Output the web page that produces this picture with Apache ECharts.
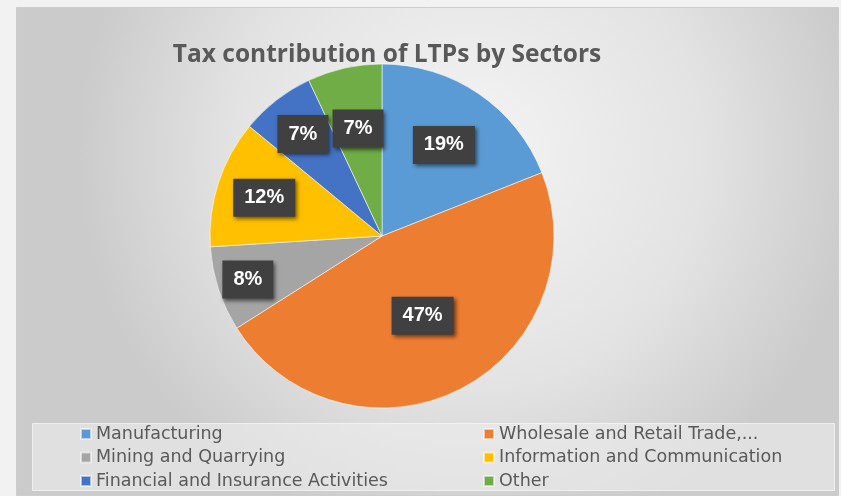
<!DOCTYPE html>
<html>
<head>
<meta charset="utf-8">
<style>
  html, body { margin: 0; padding: 0; background: #f2f2f2; }
  #chart { width: 841px; height: 496px; }
</style>
<script src="https://cdn.jsdelivr.net/npm/echarts@6/dist/echarts.min.js"></script>
</head>
<body>
<div id="chart"></div>
<script>
// Sector shares of LTP tax contribution (percent)
const sectors = [
  'Manufacturing',
  'Wholesale and Retail Trade,...',
  'Mining and Quarrying',
  'Information and Communication',
  'Financial and Insurance Activities',
  'Other'
];
const shares = [19, 47, 8, 12, 7, 7];
const sliceColors = ['#5B9BD5', '#ED7D31', '#A5A5A5', '#FFC000', '#4472C4', '#70AD47'];

// Legend reads row by row in two columns; the vertical legend fills column-first
const legendOrder = [sectors[0], sectors[2], sectors[4], sectors[1], sectors[3], sectors[5]];

// Pie geometry and how far out each data label sits (fraction of radius)
const CX = 382, CY = 236, R = 172;
const labelRadiusFrac = [0.64, 0.52, 0.82, 0.72, 0.75, 0.64];

const chart = echarts.init(document.getElementById('chart'), null, { renderer: 'canvas' });

chart.setOption({
  backgroundColor: '#f2f2f2',
  animation: false,
  color: sliceColors,
  graphic: [
    {
      type: 'rect',
      z: 0,
      shape: { x: 16.5, y: 7.5, width: 822, height: 488 },
      style: {
        fill: new echarts.graphic.RadialGradient(0.55, 0.3, 0.8, [
          { offset: 0, color: '#f4f4f4' },
          { offset: 0.6, color: '#e3e3e3' },
          { offset: 1, color: '#cbcbcb' }
        ]),
        stroke: '#cdcdcd',
        lineWidth: 1
      }
    },
    {
      type: 'rect',
      z: 1,
      shape: { x: 32.5, y: 423.5, width: 802, height: 67 },
      style: {
        fill: 'rgba(238,238,238,0.6)',
        stroke: 'rgba(250,250,250,0.7)',
        lineWidth: 1
      }
    }
  ],
  title: {
    text: 'Tax contribution of LTPs by Sectors',
    left: 382,
    top: 38,
    textAlign: 'center',
    textStyle: {
      fontFamily: 'Open Sans',
      fontWeight: 'bold',
      fontSize: 24.5,
      color: '#595959'
    }
  },
  legend: {
    data: legendOrder,
    orient: 'vertical',
    left: 80,
    top: 425,
    height: 66,
    padding: 0,
    itemGap: 5.5,
    itemWidth: 10,
    itemHeight: 10,
    icon: 'rect',
    z: 4,
    textStyle: {
      fontFamily: 'DejaVu Sans',
      fontSize: 17.5,
      lineHeight: 18,
      color: '#595959',
      width: 381.5,
      overflow: 'truncate'
    }
  },
  series: [
    {
      type: 'pie',
      center: [CX, CY],
      radius: R,
      startAngle: 90,
      clockwise: true,
      avoidLabelOverlap: false,
      data: sectors.map((name, i) => ({ name: name, value: shares[i] })),
      itemStyle: {
        borderColor: 'rgba(255,255,255,0.55)',
        borderWidth: 1
      },
      label: {
        position: 'inside',
        formatter: '{c}%',
        fontFamily: 'Liberation Sans',
        fontWeight: 'bold',
        fontSize: 20,
        lineHeight: 22,
        color: '#ffffff',
        backgroundColor: '#404040',
        padding: [8, 11],
        shadowBlur: 4,
        shadowColor: 'rgba(0,0,0,0.55)',
        shadowOffsetX: 2,
        shadowOffsetY: 2
      },
      labelLine: { show: false },
      // push each label along its slice's bisector to its own radius
      labelLayout: function (params) {
        const r = params.labelRect;
        const lx = r.x + r.width / 2;
        const ly = r.y + r.height / 2;
        const vx = lx - CX, vy = ly - CY;
        const len = Math.sqrt(vx * vx + vy * vy) || 1;
        const target = labelRadiusFrac[params.dataIndex] * R;
        return {
          dx: vx / len * (target - len),
          dy: vy / len * (target - len)
        };
      }
    }
  ]
});
</script>
</body>
</html>
